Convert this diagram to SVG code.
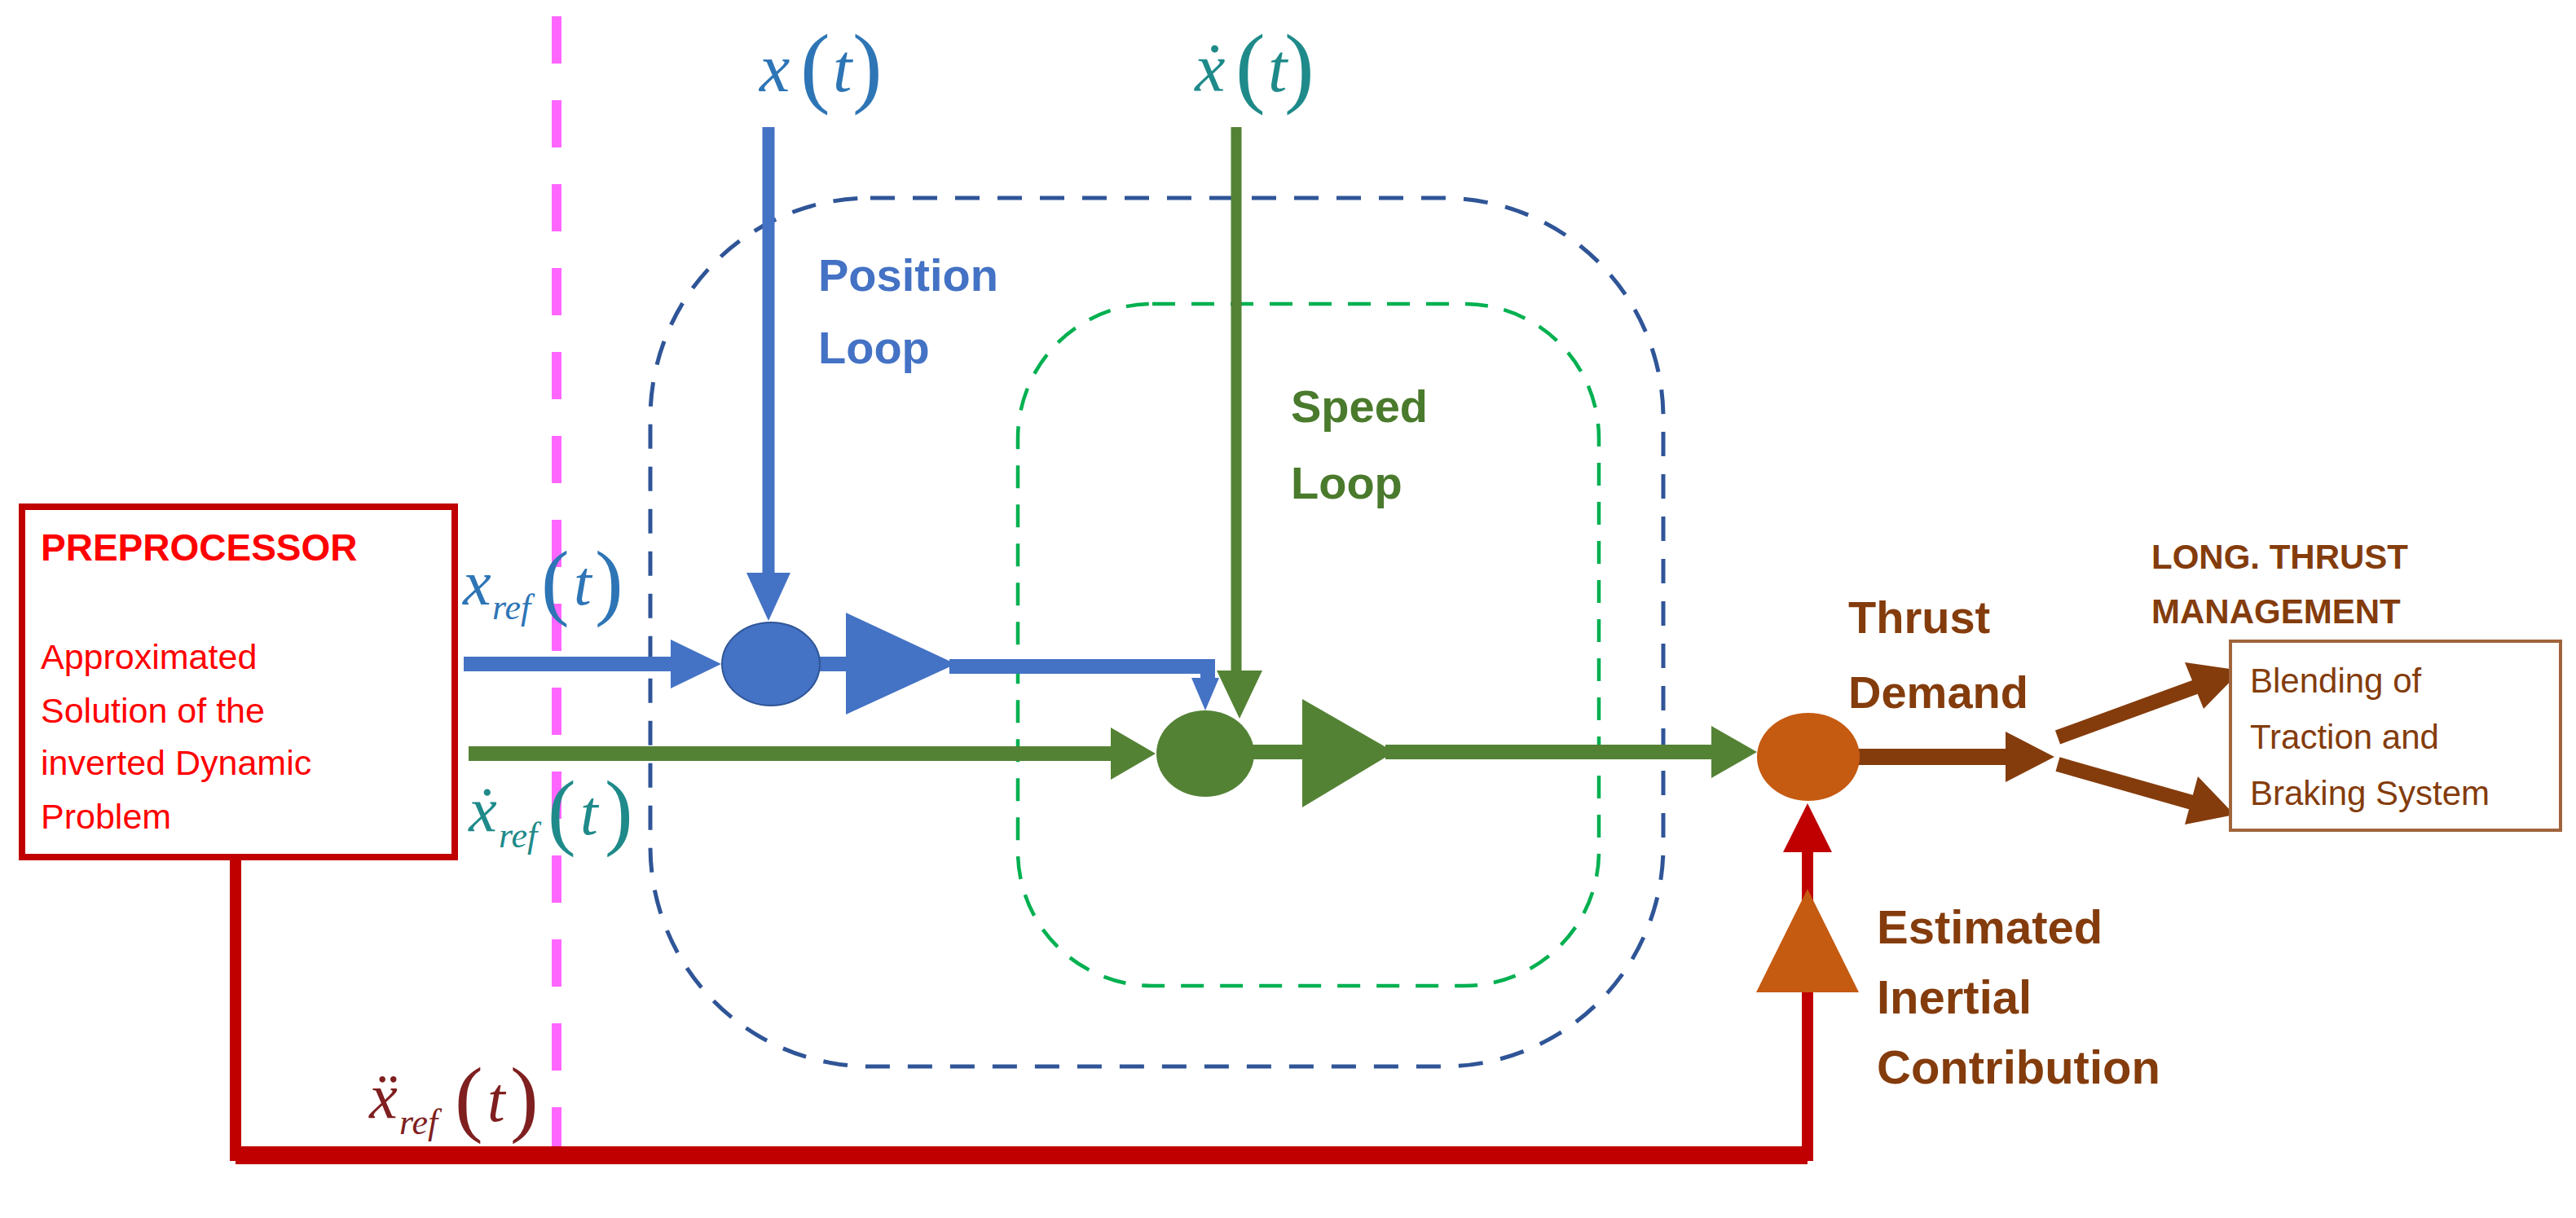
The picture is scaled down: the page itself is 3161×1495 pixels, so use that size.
<svg xmlns="http://www.w3.org/2000/svg" width="3161" height="1495" viewBox="0 0 3161 1495">
<style>
.lbl{font-family:"Liberation Sans",Arial,sans-serif;font-weight:bold}
.m{font-family:"Liberation Serif","Times New Roman",serif;font-style:italic}
.p{font-style:normal;font-weight:normal}
</style>
<rect width="3161" height="1495" fill="#fff"/>
<g id="loops" fill="none">
<rect x="798" y="243" width="1243" height="1066" rx="270" stroke="#2f5597" stroke-width="5" stroke-dasharray="30 22"/>
<rect x="1249" y="373" width="713" height="837" rx="165" stroke="#00b050" stroke-width="4.5" stroke-dasharray="28 20"/>
</g>
<g id="connectors">
<line x1="683" y1="20" x2="683" y2="1460" stroke="#ff66ff" stroke-width="12" stroke-dasharray="58 45"/>
<!-- blue -->
<g fill="#4472c4" stroke="#4472c4">
<line x1="943" y1="156" x2="943" y2="705" stroke-width="15"/>
<polygon points="916,703 970,703 943,762" stroke="none"/>
<line x1="569" y1="815" x2="826" y2="815" stroke-width="18"/>
<polygon points="823,785 823,845 885,815" stroke="none"/>
<line x1="1000" y1="815" x2="1045" y2="815" stroke-width="18"/>
<polyline points="1165,818 1482,818 1482,840" fill="none" stroke-width="18"/>
<polygon points="1462,832 1496,832 1479,872" stroke="none"/>
</g>
<!-- green -->
<g fill="#548235" stroke="#548235">
<line x1="1517" y1="156" x2="1517" y2="826" stroke-width="13"/>
<polygon points="1493,823 1549,823 1521,882" stroke="none"/>
<line x1="575" y1="925" x2="1366" y2="925" stroke-width="18"/>
<polygon points="1363,893 1363,957 1418,925" stroke="none"/>
<line x1="1530" y1="923" x2="1610" y2="923" stroke-width="18"/>
<line x1="1700" y1="923" x2="2103" y2="923" stroke-width="18"/>
<polygon points="2100,891 2100,955 2156,923" stroke="none"/>
</g>
<!-- red -->
<g fill="#c00000" stroke="#c00000">
<polyline points="289,1050 289,1418 2218,1418 2218,1040" fill="none" stroke-width="14"/>
<line x1="1460" y1="1418" x2="2218" y2="1418" stroke-width="22"/>
<line x1="289" y1="1418" x2="1460" y2="1418" stroke-width="22"/>
<polygon points="2188,1046 2248,1046 2218,986" stroke="none"/>
</g>
<!-- brown -->
<g fill="#843c0c" stroke="#843c0c">
<line x1="2280" y1="929" x2="2464" y2="929" stroke-width="20"/>
<polygon points="2461,898 2461,960 2521,929" stroke="none"/>
<line x1="2525" y1="905" x2="2700" y2="841" stroke-width="18"/>
<polygon points="2681,813 2704,870 2750,823" stroke="none"/>
<line x1="2525" y1="938" x2="2690" y2="985" stroke-width="18"/>
<polygon points="2697,953 2681,1012 2742,1000" stroke="none"/>
</g>
</g>
<g id="preprocessor">
<rect x="27" y="622" width="531" height="430" fill="none" stroke="#c00000" stroke-width="8"/>
<text class="lbl" x="50" y="688" font-size="46" fill="#ff0000">PREPROCESSOR</text>
<g font-family="Liberation Sans,Arial,sans-serif" font-size="43" fill="#ff0000">
<text x="50" y="821">Approximated</text>
<text x="50" y="887">Solution of the</text>
<text x="50" y="951">inverted Dynamic</text>
<text x="50" y="1017">Problem</text>
</g>
</g>
<g id="sum-position"><ellipse cx="946" cy="815" rx="60" ry="51" fill="#4472c4" stroke="#2f5597" stroke-width="2"/></g>
<g id="gain-position"><polygon points="1038,752 1038,877 1173,815" fill="#4472c4"/></g>
<g id="sum-speed"><ellipse cx="1479" cy="925" rx="60" ry="53" fill="#548235"/></g>
<g id="gain-speed"><polygon points="1598,858 1598,991 1711,923" fill="#548235"/></g>
<g id="sum-thrust"><ellipse cx="2219" cy="929" rx="63" ry="54" fill="#c55a11"/></g>
<g id="gain-inertial"><polygon points="2218,1091 2155,1218 2281,1218" fill="#c55a11"/></g>
<g id="ltm">
<rect x="2737" y="787" width="405" height="232" fill="#fff" stroke="#a0643c" stroke-width="4"/>
<g font-family="Liberation Sans,Arial,sans-serif" font-size="42" fill="#843c0c">
<text x="2761" y="850">Blending of</text>
<text x="2761" y="919">Traction and</text>
<text x="2761" y="988">Braking System</text>
</g>
<text class="lbl" x="2640" y="698" font-size="42" fill="#843c0c">LONG. THRUST</text>
<text class="lbl" x="2640" y="765" font-size="42" fill="#843c0c">MANAGEMENT</text>
</g>
<g id="labels">
<text class="lbl" x="1004" y="357" font-size="56" fill="#4472c4">Position</text>
<text class="lbl" x="1004" y="446" font-size="56" fill="#4472c4">Loop</text>
<text class="lbl" x="1584" y="518" font-size="56" fill="#4a7a2c">Speed</text>
<text class="lbl" x="1584" y="612" font-size="56" fill="#4a7a2c">Loop</text>
<text class="lbl" x="2268" y="777" font-size="56" fill="#843c0c">Thrust</text>
<text class="lbl" x="2268" y="869" font-size="56" fill="#843c0c">Demand</text>
<text class="lbl" x="2303" y="1158" font-size="58" fill="#843c0c">Estimated</text>
<text class="lbl" x="2303" y="1244" font-size="58" fill="#843c0c">Inertial</text>
<text class="lbl" x="2303" y="1330" font-size="58" fill="#843c0c">Contribution</text>
<text class="m" x="932" y="112" font-size="84" fill="#2e75b6">x<tspan class="p" x="982" y="118" font-size="110">(</tspan><tspan x="1022" y="112">t</tspan><tspan class="p" x="1046" y="118" font-size="110">)</tspan></text>
<text class="m" x="1466" y="112" font-size="84" fill="#1f8a8a">ẋ<tspan class="p" x="1516" y="118" font-size="110">(</tspan><tspan x="1556" y="112">t</tspan><tspan class="p" x="1576" y="118" font-size="110">)</tspan></text>
<text class="m" x="568" y="742" font-size="78" fill="#2e75b6">x<tspan x="604" y="760" font-size="44">ref</tspan><tspan class="p" x="664" y="748" font-size="104">(</tspan><tspan x="704" y="742">t</tspan><tspan class="p" x="730" y="748" font-size="104">)</tspan></text>
<text class="m" x="575" y="1020" font-size="78" fill="#1f8a8a">ẋ<tspan x="612" y="1040" font-size="44">ref</tspan><tspan class="p" x="672" y="1030" font-size="104">(</tspan><tspan x="712" y="1024">t</tspan><tspan class="p" x="742" y="1030" font-size="104">)</tspan></text>
<text class="m" x="453" y="1372" font-size="78" fill="#7f1f1f">ẍ<tspan x="490" y="1392" font-size="44">ref</tspan><tspan class="p" x="558" y="1382" font-size="104">(</tspan><tspan x="598" y="1376">t</tspan><tspan class="p" x="626" y="1382" font-size="104">)</tspan></text>
</g>
</svg>
